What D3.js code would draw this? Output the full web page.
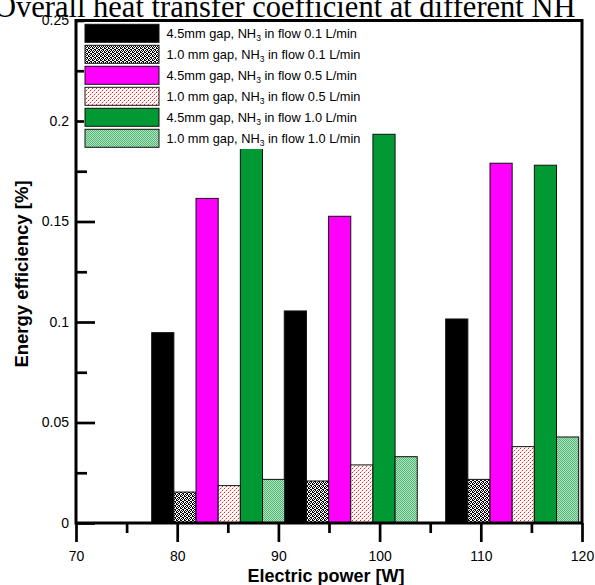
<!DOCTYPE html>
<html>
<head>
<meta charset="utf-8">
<script src="https://cdn.jsdelivr.net/npm/d3@7"></script>
<style>
  html, body { margin: 0; padding: 0; background: #fff; overflow: hidden; }
  svg { display: block; }
  text { font-family: "Liberation Sans", Arial, Helvetica, sans-serif; }
</style>
</head>
<body>
<svg id="chart" width="595" height="585"></svg>
<script>
// ---------------- data ----------------
const groupPower = [84.05, 97.15, 113.1];          // x positions (W) of each bar group centre
const barWidthW = 2.19;                            // width of one bar in W units
const seriesGap = ["4.5mm gap", "1.0 mm gap", "4.5mm gap", "1.0 mm gap", "4.5mm gap", "1.0 mm gap"];
const seriesFlow = ["0.1 L/min", "0.1 L/min", "0.5 L/min", "0.5 L/min", "1.0 L/min", "1.0 L/min"];
const gap45_flow01 = [0.0947, 0.1055, 0.1015];
const gap10_flow01 = [0.0154, 0.0209, 0.0217];
const gap45_flow05 = [0.1615, 0.1526, 0.1790];
const gap10_flow05 = [0.0186, 0.0289, 0.0380];
const gap45_flow10 = [0.1874, 0.1934, 0.1780];
const gap10_flow10 = [0.0217, 0.0330, 0.0428];
const seriesValues = [gap45_flow01, gap10_flow01, gap45_flow05, gap10_flow05, gap45_flow10, gap10_flow10];
const xMajorTicks = [70, 80, 90, 100, 110, 120];
const xMinorTicks = [75, 85, 95, 105, 115];
const yMajorTicks = [0, 0.05, 0.1, 0.15, 0.2, 0.25];
const yTickLabels = ["0", "0.05", "0.1", "0.15", "0.2", "0.25"];
const yMinorTicks = [0.025, 0.075, 0.125, 0.175, 0.225];
const chartTitle = "Overall heat transfer coefficient at different NH";
const xTitle = "Electric power [W]";
const yTitle = "Energy efficiency [%]";

// ---------------- setup ----------------
const svg = d3.select("#chart");
const L = 76, R = 582, T = 20.5, B = 523;
const x = d3.scaleLinear().domain([70, 120]).range([L, R]);
const y = d3.scaleLinear().domain([0, 0.25]).range([B, T]);

// patterns
const defs = svg.append("defs");
function pattern(id, size, bg, cells, color) {
  const p = defs.append("pattern").attr("id", id).attr("patternUnits", "userSpaceOnUse")
    .attr("width", size).attr("height", size);
  p.append("rect").attr("width", size).attr("height", size).attr("fill", bg);
  cells.forEach(c => p.append("rect").attr("x", c[0]).attr("y", c[1]).attr("width", 1).attr("height", 1).attr("fill", c[2] || color));
}
pattern("patBlack", 4, "#fff", [[0,0],[1,0],[2,1],[3,1],[1,2],[0,3],[2,3],[3,2]], "#000");
pattern("patPink", 4, "#fff", [[0,0],[2,2],[1,3,"#ffb3b3"],[3,1,"#ffb3b3"]], "#ff2020");
pattern("patGreen", 2, "#b4e2c2", [[0,0],[1,1]], "#4fb873");

const fills = ["#000000", "url(#patBlack)", "#ff00ff", "url(#patPink)", "#009933", "url(#patGreen)"];

// ---------------- title (partially clipped) ----------------
svg.append("text").attr("x", -6).attr("y", 16.5)
  .style("font-family", "'Liberation Serif', 'Times New Roman', serif")
  .style("font-size", "30.5px").attr("fill", "#000")
  .text(chartTitle);

// ---------------- bars ----------------
const bars = [];
seriesValues.forEach((vals, s) => {
  vals.forEach((v, g) => {
    const x0 = groupPower[g] - 3 * barWidthW + s * barWidthW;
    bars.push({ s, g, v, x0, x1: x0 + barWidthW });
  });
});
svg.append("g").selectAll("rect").data(bars).join("rect")
  .attr("x", d => x(d.x0))
  .attr("width", d => x(d.x1) - x(d.x0))
  .attr("y", d => y(d.v))
  .attr("height", d => y(0) - y(d.v))
  .attr("fill", d => fills[d.s])
  .attr("stroke", "#111")
  .attr("stroke-width", 1);

// ---------------- axes ----------------
const tickColor = "#000";
const gx = svg.append("g").attr("transform", `translate(0,${B})`)
  .call(d3.axisBottom(x).tickValues(xMajorTicks).tickSize(19).tickPadding(9.5).tickFormat(d3.format("d")));
const gxm = svg.append("g").attr("transform", `translate(0,${B})`)
  .call(d3.axisBottom(x).tickValues(xMinorTicks).tickSize(10).tickFormat(""));
const yAxisMajor = svg.append("g").attr("transform", `translate(${L},0)`)
  .call(d3.axisLeft(y).tickValues(yMajorTicks).tickSize(-19).tickPadding(7)
        .tickFormat((d, i) => yTickLabels[i]));
const yAxisMinor = svg.append("g").attr("transform", `translate(${L},0)`)
  .call(d3.axisLeft(y).tickValues(yMinorTicks).tickSize(-11).tickFormat(""));

[gx, gxm, yAxisMajor, yAxisMinor].forEach(g => {
  g.select(".domain").remove();
  g.selectAll(".tick line").attr("stroke", tickColor).attr("stroke-width", 2.7);
  g.selectAll(".tick text").attr("fill", "#000").style("font-size", "14px")
    .style("font-family", "'Liberation Sans', Arial, sans-serif");
});

// ---------------- legend ----------------
const legend = svg.append("g");
legend.append("rect").attr("x", 84).attr("y", 22).attr("width", 279).attr("height", 127).attr("fill", "#fff");
const rowTop = 24.3, rowStep = 21;
seriesGap.forEach((gapLbl, i) => {
  const ry = rowTop + i * rowStep;
  legend.append("rect").attr("x", 85).attr("y", ry).attr("width", 74).attr("height", 18)
    .attr("fill", fills[i]).attr("stroke", "#111").attr("stroke-width", 1);
  const t = legend.append("text").attr("x", 166.5).attr("y", ry + 13.5)
    .style("font-size", "12.8px").attr("fill", "#000");
  t.append("tspan").text(gapLbl + ", NH");
  t.append("tspan").attr("dy", 3.5).style("font-size", "8.5px").text("3");
  t.append("tspan").attr("dy", -3.5).text(" in flow " + seriesFlow[i]);
});

// ---------------- frame ----------------
svg.append("rect").attr("x", L).attr("y", T).attr("width", R - L).attr("height", B - T)
  .attr("fill", "none").attr("stroke", "#000").attr("stroke-width", 3);

// ---------------- axis titles ----------------
svg.append("text").attr("x", 326).attr("y", 581.5).attr("text-anchor", "middle")
  .style("font-size", "18px").style("font-weight", "bold").text(xTitle);
svg.append("text").attr("transform", "translate(28,274) rotate(-90)").attr("text-anchor", "middle")
  .style("font-size", "18.5px").style("font-weight", "bold").text(yTitle);
</script>
</body>
</html>
